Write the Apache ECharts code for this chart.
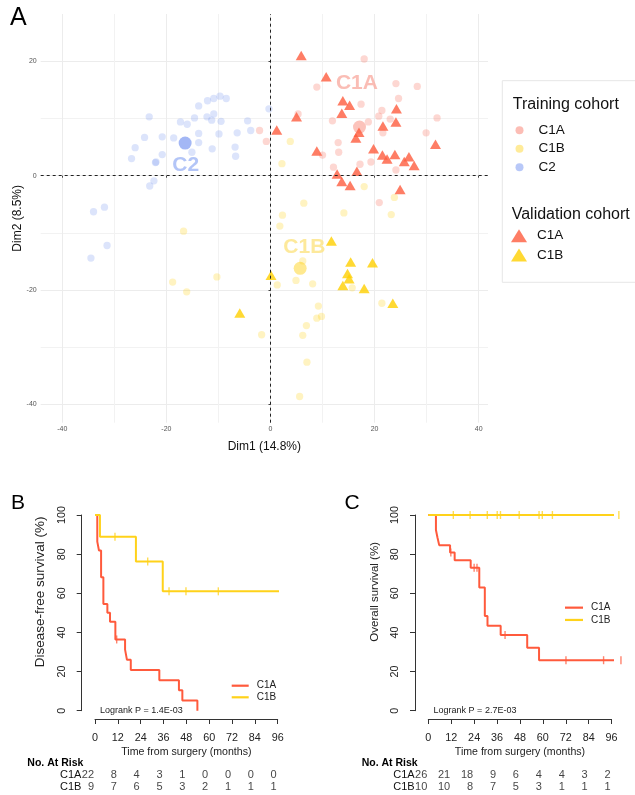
<!DOCTYPE html>
<html><head><meta charset="utf-8">
<script src="https://cdn.jsdelivr.net/npm/echarts@6/dist/echarts.min.js"></script>
<style>html,body{margin:0;padding:0;background:#fff}#c{width:635px;height:795px}</style>
</head><body><div id="c"></div>
<script>
const FONT = '"Liberation Sans", Arial, Helvetica, sans-serif';

// ---------- Panel A: PCA scatter ----------
const trainC1A = [[-2.1,7.9],[-0.8,6.0],[5.3,10.8],[8.9,15.5],[18.0,20.4],[24.1,16.1],[28.2,15.6],[24.6,13.5],[17.4,12.5],[21.4,11.4],[20.8,10.4],[23.0,9.9],[18.8,9.4],[11.9,9.6],[21.6,7.5],[32.0,10.1],[29.9,7.5],[13.0,5.8],[13.1,4.1],[10.0,3.6],[12.1,1.5],[17.2,2.0],[19.3,2.4],[24.1,1.0],[20.9,-4.7]];
const trainC1B = [[3.8,6.0],[2.2,2.1],[6.4,-4.8],[2.3,-6.9],[1.8,-8.8],[-16.7,-9.7],[14.1,-6.5],[23.2,-6.8],[23.8,-3.8],[18.0,-1.9],[6.2,-14.9],[4.9,-18.3],[1.3,-19.1],[8.1,-18.9],[-18.8,-18.6],[-16.1,-20.3],[-10.3,-17.7],[-1.7,-27.8],[6.9,-26.2],[6.2,-27.9],[8.9,-24.9],[9.8,-24.6],[9.2,-22.8],[15.7,-19.6],[21.4,-22.3],[7.0,-32.6],[5.6,-38.6]];
const trainC2 = [[-23.3,10.3],[-26.0,4.9],[-24.2,6.7],[-26.7,3.0],[-22.1,2.3],[-22.0,2.4],[-20.8,3.7],[-20.8,6.8],[-18.6,6.6],[-17.3,9.4],[-16.0,9.0],[-15.1,4.1],[-13.8,5.8],[-13.8,7.4],[-14.6,10.1],[-13.8,12.2],[-12.1,13.1],[-10.9,13.5],[-9.7,13.9],[-8.5,13.5],[-12.2,10.3],[-10.9,10.8],[-11.3,9.7],[-9.5,9.5],[-9.9,7.3],[-11.2,4.7],[-6.4,7.5],[-4.4,9.6],[-3.8,7.9],[-6.8,5.0],[-6.7,3.4],[-0.3,11.7],[-22.4,-0.9],[-23.2,-1.8],[-34.0,-6.3],[-31.9,-5.5],[-31.4,-12.2],[-34.5,-14.4]];
const validC1A = [[5.9,21.0],[10.7,17.3],[13.9,13.1],[15.2,12.3],[13.7,10.9],[5.0,10.3],[24.2,11.7],[24.1,9.4],[21.6,8.7],[17.0,7.6],[16.4,6.6],[8.9,4.3],[19.8,4.7],[21.5,3.6],[22.4,2.9],[23.9,3.7],[26.6,3.3],[25.7,2.5],[27.6,1.8],[31.7,5.5],[12.8,0.3],[13.7,-1.0],[15.3,-1.7],[16.6,0.8],[24.9,-2.4],[1.2,8.0]];
const validC1B = [[11.7,-11.4],[0.1,-17.4],[15.4,-15.1],[19.6,-15.2],[14.8,-17.1],[15.1,-18.0],[13.9,-19.2],[18.0,-19.7],[23.5,-22.3],[-5.9,-24.0]];
const clusterNames = ['C1A', 'C1B', 'C2'];
const clusterCentroids = [[17.1,8.5],[5.7,-16.2],[-16.4,5.7]];
const clusterLabelPos = [[16.6,16.2],[6.5,-12.5],[-16.3,1.8]];
const dimMajorTicks = [-40,-20,0,20,40];
const dimMinorTicks = [-30,-10,10,30];

// ---------- Panels B & C: Kaplan-Meier ----------
const kmTicks = [0,12,24,36,48,60,72,84,96];
const dfsC1A = [[0,100],[1.2,86.4],[2.1,81.8],[3.2,68.2],[4.4,54.5],[6.5,50.0],[7.9,45.5],[10.7,36.4],[15.8,31.2],[16.8,26.0],[18.8,20.8],[33.8,15.6],[44.1,10.4],[45.9,5.2],[53.8,0]];
const dfsC1ACensor = [[11.4,36.4]];
const dfsC1B = [[0,100],[2.6,88.9],[21.5,76.2],[35.6,61.0],[100.4,61.0]];
const dfsC1BCensor = [[10.5,88.9],[27.7,76.2],[38.9,61.0],[47.8,61.0],[64.8,61.0]];
const osC1A = [[0,100],[4.0,92.3],[4.8,88.5],[5.7,84.6],[11.4,80.8],[13.8,76.9],[22.2,73.1],[26.7,63.0],[29.6,48.4],[31.0,43.4],[37.9,38.7],[51.8,32.2],[58.0,25.8],[100.9,25.8]];
const osC1ACensor = [[11.8,80.8],[24.0,73.1],[25.5,73.1],[40.2,38.7],[72.1,25.8],[91.8,25.8],[100.9,25.8]];
const osC1B = [[0,100],[100.9,100]];
const osC1BCensor = [[13.1,100],[21.9,100],[30.9,100],[36.1,100],[37.8,100],[47.6,100],[58.0,100],[59.7,100],[65.0,100],[99.8,100]];
const riskGroups = ['C1A','C1B'];
const riskDFS_C1A = [22,8,4,3,1,0,0,0,0];
const riskDFS_C1B = [9,7,6,5,3,2,1,1,1];
const riskOS_C1A = [26,21,18,9,6,4,4,3,2];
const riskOS_C1B = [10,10,8,7,5,3,1,1,1];

// ---------- styles ----------
const RED = '#FE5C3E', GOLD = '#FFD000';
const KM_RED = '#FF5A3C', KM_GOLD = '#FFD21A';
const ptCol = { C1A: 'rgba(248,118,100,0.36)', C1B: 'rgba(255,204,0,0.3)', C2: 'rgba(111,143,240,0.3)' };
const legCol = { C1A: 'rgba(248,118,100,0.6)', C1B: 'rgba(255,204,0,0.5)', C2: 'rgba(111,143,240,0.62)' };
const cenCol = { C1A: 'rgba(248,118,100,0.55)', C1B: 'rgba(255,204,0,0.55)', C2: 'rgba(111,143,240,0.8)' };
const lblCol = { C1A: '#F9ADA2', C1B: '#FDE382', C2: '#A0B6F5' };

const chart = echarts.init(document.getElementById('c'), null, { renderer: 'canvas' });

function kmXAxis(grid) {
  return { gridIndex: grid, type: 'value', min: 0, max: 96, interval: 12, offset: 8.3,
    axisLine: { show: true, onZero: false, lineStyle: { color: '#333', width: 1 } },
    axisTick: { show: true, length: 5, lineStyle: { color: '#333' } },
    axisLabel: { fontSize: 10.8, color: '#222', margin: 13.5, fontFamily: FONT },
    splitLine: { show: false },
    name: 'Time from surgery (months)', nameLocation: 'middle', nameGap: 27.5, nameMoveOverlap: false,
    nameTextStyle: { fontSize: 10.6, color: '#222', fontFamily: FONT } };
}
function kmYAxis(grid, name, nameSize) {
  return { gridIndex: grid, type: 'value', min: 0, max: 100, interval: 20, offset: 13.3,
    axisLine: { show: true, onZero: false, lineStyle: { color: '#333', width: 1 } },
    axisTick: { show: true, length: 5, lineStyle: { color: '#333' } },
    axisLabel: { fontSize: 10.8, color: '#222', margin: 14, rotate: 90, fontFamily: FONT },
    splitLine: { show: false },
    name: name, nameLocation: 'middle', nameGap: 34.5, nameMoveOverlap: false,
    nameTextStyle: { fontSize: nameSize, color: '#222', fontFamily: FONT, padding: [0, 0, 0, 42] } };
}
function riskXAxis(grid) {
  return { gridIndex: grid, type: 'value', min: 0, max: 96, show: false };
}
function riskYAxis(grid) {
  return { gridIndex: grid, type: 'category', data: riskGroups, inverse: true,
    axisLine: { show: false }, axisTick: { show: false }, splitLine: { show: false },
    axisLabel: { interval: 0, align: 'left', margin: 35, fontSize: 11, color: '#111', fontFamily: FONT } };
}
function kmLine(name, data, color, xi, yi) {
  return { name: name, type: 'line', step: 'end', data: data, xAxisIndex: xi, yAxisIndex: yi,
    showSymbol: false, symbol: 'none', clip: false, z: 3,
    lineStyle: { color: color, width: 2 }, itemStyle: { color: color } };
}
function kmCensor(name, data, color, xi, yi) {
  return { name: name, type: 'scatter', data: data, xAxisIndex: xi, yAxisIndex: yi,
    symbol: 'rect', symbolSize: [1.4, 8], clip: false, z: 4,
    itemStyle: { color: color, opacity: 0.75 } };
}
function riskSeries(name, counts, group, xi, yi) {
  return { name: name, type: 'scatter', xAxisIndex: xi, yAxisIndex: yi, symbolSize: 0,
    data: kmTicks.map((t, i) => [t, group, counts[i]]),
    label: { show: true, position: 'left', distance: 1, formatter: p => String(p.value[2]),
      fontSize: 11, color: '#111', fontFamily: FONT } };
}
const stripName = n => n.replace(/^[^_]*_/, '');

const option = {
  animation: false,
  backgroundColor: '#fff',
  textStyle: { fontFamily: FONT },
  grid: [
    { left: 40.7, top: 14, width: 447.3, height: 408.7 },
    { left: 95, top: 515, width: 182.7, height: 195.7 },
    { left: 428.3, top: 515, width: 183.3, height: 195.7 },
    { left: 95, top: 769.2, width: 182.7, height: 23.2 },
    { left: 428.3, top: 769.2, width: 183.3, height: 23.2 }
  ],
  xAxis: [
    { gridIndex: 0, type: 'value', min: -44.15, max: 41.79,
      axisLine: { show: false },
      axisTick: { show: true, length: 2, customValues: dimMajorTicks, lineStyle: { color: '#444' } },
      axisLabel: { show: true, customValues: dimMajorTicks, fontSize: 7, color: '#555', margin: 3 },
      splitLine: { show: true, lineStyle: { color: '#ececec', width: 1 } },
      name: 'Dim1 (14.8%)', nameLocation: 'middle', nameGap: 18, nameMoveOverlap: false,
      nameTextStyle: { fontSize: 12, color: '#111' } },
    { gridIndex: 0, type: 'value', min: -44.15, max: 41.79, position: 'top',
      axisLine: { show: false }, axisTick: { show: false, customValues: dimMinorTicks },
      axisLabel: { show: false, customValues: dimMinorTicks },
      splitLine: { show: true, lineStyle: { color: '#f2f2f2', width: 1 } } },
    kmXAxis(1), kmXAxis(2), riskXAxis(3), riskXAxis(4)
  ],
  yAxis: [
    { gridIndex: 0, type: 'value', min: -43.18, max: 28.27,
      axisLine: { show: false },
      axisTick: { show: true, length: 2, customValues: dimMajorTicks, lineStyle: { color: '#444' } },
      axisLabel: { show: true, customValues: dimMajorTicks, fontSize: 7, color: '#555', margin: 4 },
      splitLine: { show: true, lineStyle: { color: '#ececec', width: 1 } },
      name: 'Dim2 (8.5%)', nameLocation: 'middle', nameGap: 17, nameMoveOverlap: false,
      nameTextStyle: { fontSize: 12, color: '#111' } },
    { gridIndex: 0, type: 'value', min: -43.18, max: 28.27, position: 'right',
      axisLine: { show: false }, axisTick: { show: false, customValues: dimMinorTicks },
      axisLabel: { show: false, customValues: dimMinorTicks },
      splitLine: { show: true, lineStyle: { color: '#f2f2f2', width: 1 } } },
    kmYAxis(1, 'Disease-free survival (%)', 13.5), kmYAxis(2, 'Overall survival (%)', 11.5),
    riskYAxis(3), riskYAxis(4)
  ],
  legend: [
    { orient: 'vertical', left: 515.5, top: 121, padding: 0, itemGap: 0, icon: 'circle',
      itemWidth: 15, itemHeight: 8, selectedMode: false,
      data: clusterNames.map(c => ({ name: 'Training_' + c, itemStyle: { color: legCol[c] } })),
      formatter: stripName,
      textStyle: { fontSize: 13.5, color: '#111', lineHeight: 18.5, padding: [0, 0, 0, 6.5] } },
    { orient: 'vertical', left: 511, top: 226, padding: 0, itemGap: 0, icon: 'triangle',
      itemWidth: 16, itemHeight: 13, selectedMode: false,
      data: ['Validation_C1A', 'Validation_C1B'],
      formatter: stripName,
      textStyle: { fontSize: 13.5, color: '#111', lineHeight: 19.3, padding: [0, 0, 0, 5] } },
    { orient: 'vertical', left: 231.7, top: 679.9, padding: 0, itemGap: 0, icon: 'rect',
      itemWidth: 17, itemHeight: 2.2, selectedMode: false,
      data: ['DFS_C1A', 'DFS_C1B'], formatter: stripName,
      textStyle: { fontSize: 10, color: '#222', lineHeight: 11.6, padding: [0, 0, 0, 3] } },
    { orient: 'vertical', left: 565, top: 601.5, padding: 0, itemGap: 0, icon: 'rect',
      itemWidth: 18, itemHeight: 2.2, selectedMode: false,
      data: ['OS_C1A', 'OS_C1B'], formatter: stripName,
      textStyle: { fontSize: 10, color: '#222', lineHeight: 12.3, padding: [0, 0, 0, 3] } }
  ],
  graphic: [
    { type: 'rect', shape: { x: 502.3, y: 80.7, width: 140, height: 201.6 },
      style: { fill: '#fff', stroke: '#e6e6e6', lineWidth: 1 }, z: -1 },
    { type: 'text', x: 512.7, y: 105, style: { text: 'Training cohort', fill: '#111', font: '16px ' + FONT, textVerticalAlign: 'middle' } },
    { type: 'text', x: 511.7, y: 215, style: { text: 'Validation cohort', fill: '#111', font: '16px ' + FONT, textVerticalAlign: 'middle' } },
    { type: 'text', x: 10, y: 18, style: { text: 'A', font: '25px ' + FONT, fill: '#000', textVerticalAlign: 'middle' } },
    { type: 'text', x: 11, y: 503, style: { text: 'B', font: '21px ' + FONT, fill: '#000', textVerticalAlign: 'middle' } },
    { type: 'text', x: 344.5, y: 503, style: { text: 'C', font: '21px ' + FONT, fill: '#000', textVerticalAlign: 'middle' } },
    { type: 'text', x: 141.4, y: 710.7, style: { text: 'Logrank P = 1.4E-03', font: '9px ' + FONT, fill: '#222', textAlign: 'center', textVerticalAlign: 'middle' } },
    { type: 'text', x: 475, y: 710.7, style: { text: 'Logrank P = 2.7E-03', font: '9px ' + FONT, fill: '#222', textAlign: 'center', textVerticalAlign: 'middle' } },
    { type: 'text', x: 27.3, y: 763.3, style: { text: 'No. At Risk', font: 'bold 10.5px ' + FONT, fill: '#000', textVerticalAlign: 'middle' } },
    { type: 'text', x: 361.7, y: 763.3, style: { text: 'No. At Risk', font: 'bold 10.5px ' + FONT, fill: '#000', textVerticalAlign: 'middle' } }
  ],
  series: [
    { name: 'Training_C1A', type: 'scatter', data: trainC1A, symbol: 'circle', symbolSize: 7.3, itemStyle: { color: ptCol.C1A }, z: 2,
      markLine: { silent: true, symbol: 'none', label: { show: false },
        lineStyle: { color: '#222', type: [3, 3], width: 1 },
        data: [{ xAxis: 0 }, { yAxis: 0 }] } },
    { name: 'Training_C1B', type: 'scatter', data: trainC1B, symbol: 'circle', symbolSize: 7.3, itemStyle: { color: ptCol.C1B }, z: 2 },
    { name: 'Training_C2', type: 'scatter', data: trainC2, symbol: 'circle', symbolSize: 7.3, itemStyle: { color: ptCol.C2 }, z: 2 },
    { name: 'Centroids', type: 'scatter', symbol: 'circle', symbolSize: 13, z: 3,
      data: clusterCentroids.map((p, i) => ({ value: p, itemStyle: { color: cenCol[clusterNames[i]] } })) },
    { name: 'Validation_C1A', type: 'scatter', data: validC1A, symbol: 'triangle', symbolSize: [11, 9.5], itemStyle: { color: RED }, z: 4 },
    { name: 'Validation_C1B', type: 'scatter', data: validC1B, symbol: 'triangle', symbolSize: [11, 9.5], itemStyle: { color: GOLD }, z: 4 },
    { name: 'ClusterLabels', type: 'scatter', symbolSize: 0, z: 5,
      data: clusterLabelPos.map((p, i) => ({ value: p, name: clusterNames[i],
        label: { show: true, position: 'inside', formatter: '{b}', fontSize: 21, fontWeight: 'bold', color: lblCol[clusterNames[i]], fontFamily: FONT } })) },

    kmLine('DFS_C1A', dfsC1A, KM_RED, 2, 2),
    kmLine('DFS_C1B', dfsC1B, KM_GOLD, 2, 2),
    kmCensor('DFS_C1A_cens', dfsC1ACensor, KM_RED, 2, 2),
    kmCensor('DFS_C1B_cens', dfsC1BCensor, KM_GOLD, 2, 2),
    kmLine('OS_C1A', osC1A, KM_RED, 3, 3),
    kmLine('OS_C1B', osC1B, KM_GOLD, 3, 3),
    kmCensor('OS_C1A_cens', osC1ACensor, KM_RED, 3, 3),
    kmCensor('OS_C1B_cens', osC1BCensor, KM_GOLD, 3, 3),

    riskSeries('riskDFS_C1A', riskDFS_C1A, 'C1A', 4, 4),
    riskSeries('riskDFS_C1B', riskDFS_C1B, 'C1B', 4, 4),
    riskSeries('riskOS_C1A', riskOS_C1A, 'C1A', 5, 5),
    riskSeries('riskOS_C1B', riskOS_C1B, 'C1B', 5, 5)
  ]
};
chart.setOption(option);
</script>
</body></html>
